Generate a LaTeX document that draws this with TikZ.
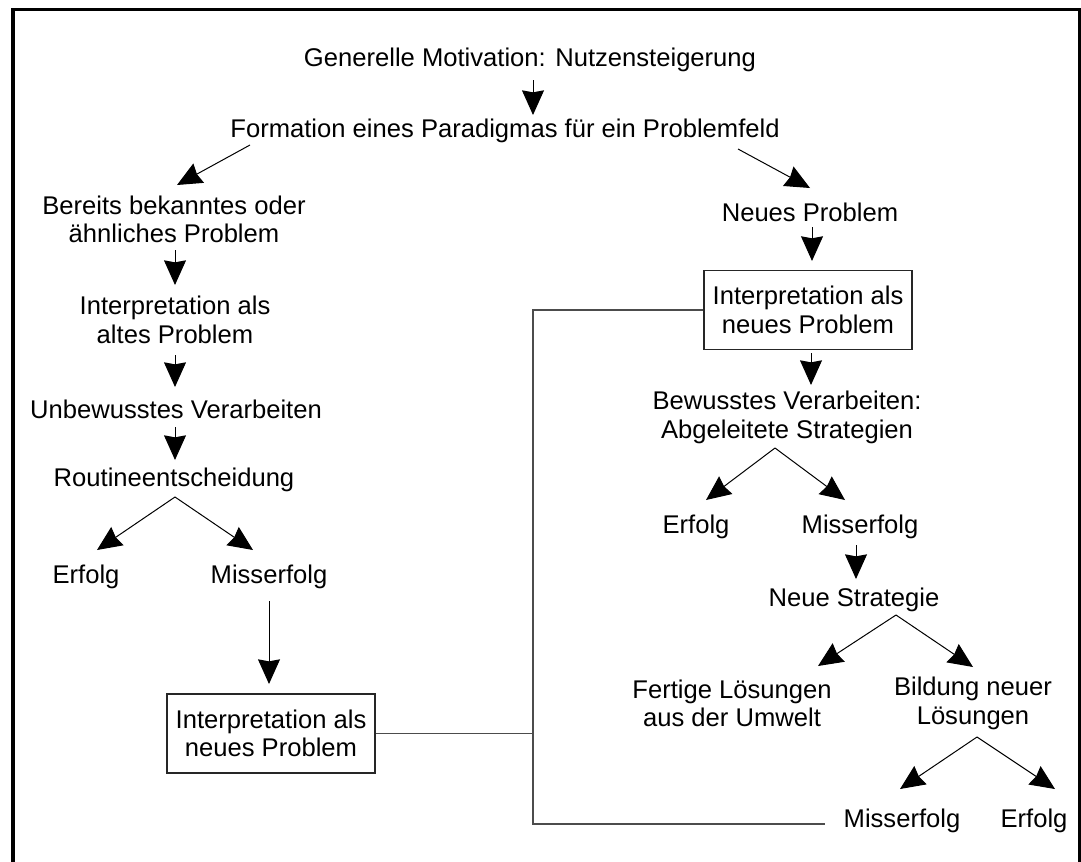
\documentclass[tikz,border=0pt]{standalone}
\usepackage{fontspec}
\setmainfont{Liberation Sans}
\usetikzlibrary{arrows.meta}
\begin{document}
\begin{tikzpicture}[x=0.75pt,y=-0.75pt,
  txt/.style={inner sep=0pt,align=center,font=\fontsize{19.2pt}{21.5pt}\selectfont},
  boxnode/.style={txt,draw=black!85,line width=0.8pt,minimum width=156pt,minimum height=59.25pt},
  arr/.style={line width=0.75pt,-{Stealth[length=18.5pt,width=16.5pt,inset=1.5pt]}},
  link/.style={line width=0.9pt,draw=black!70},
  frame/.style={line width=2.8pt,draw=black}]
\useasboundingbox (0,0) rectangle (1081,861);
\clip (0,0) rectangle (1081,861);
\draw[frame] (13,9.5) rectangle (1079.5,900);

% top of the scheme
\node[txt] (t1) at (530,60) {Generelle Motivation: Nutzensteigerung};
\node[txt] (t2) at (505,131) {Formation eines Paradigmas für ein Problemfeld};

% left branch: known problem
\node[txt] (bk) at (174,219.5) {Bereits bekanntes oder\\ähnliches Problem};
\node[txt] (ia) at (175,320) {Interpretation als\\altes Problem};
\node[txt] (uv) at (176,409) {Unbewusstes Verarbeiten};
\node[txt] (re) at (174,480) {Routineentscheidung};
\node[txt] (e1) at (86,577) {Erfolg};
\node[txt] (m1) at (269,577) {Misserfolg};
\node[boxnode] (b1) at (271,733.5) {Interpretation als\\neues Problem};

% right branch: new problem
\node[txt] (np) at (810,212) {Neues Problem};
\node[boxnode] (b2) at (808,310) {Interpretation als\\neues Problem};
\node[txt] (bv) at (787,417.5) {Bewusstes Verarbeiten:\\Abgeleitete Strategien};
\node[txt] (e2) at (696,527) {Erfolg};
\node[txt] (m2) at (860,527) {Misserfolg};
\node[txt] (ns) at (854,600) {Neue Strategie};
\node[txt] (fl) at (732,703.5) {Fertige Lösungen\\aus der Umwelt};
\node[txt] (bl) at (973,703.5) {Bildung neuer\\Lösungen};
\node[txt] (m3) at (902,821) {Misserfolg};
\node[txt] (e3) at (1034,821) {Erfolg};

% arrows
\draw[arr] ([shift={(3,20)}]t1.center) -- ([shift={(28,-16)}]t2.center);
\draw[arr] ([shift={(-255,14)}]t2.center) -- ([shift={(3,-34.5)}]bk.center);
\draw[arr] ([shift={(233,18)}]t2.center) -- ([shift={(0,-24)}]np.center);

\draw[arr] ([shift={(1,30.5)}]bk.center) -- ([shift={(0,-35)}]ia.center);
\draw[arr] ([shift={(0,35)}]ia.center) -- ([shift={(-1,-22)}]uv.center);
\draw[arr] ([shift={(-1,18)}]uv.center) -- ([shift={(1,-20)}]re.center);
\draw[arr] ([shift={(1,17)}]re.center) -- ([shift={(11,-27)}]e1.center);
\draw[arr] ([shift={(1,17)}]re.center) -- ([shift={(-16,-27)}]m1.center);
\draw[arr] ([shift={(0,24)}]m1.center) -- ([shift={(-2,-49.5)}]b1.center);

\draw[arr] ([shift={(2,15)}]np.center) -- ([shift={(4,-9)}]b2.north);
\draw[arr] ([shift={(3,3)}]b2.south) -- ([shift={(24,-32.5)}]bv.center);
\draw[arr] ([shift={(-12,30.5)}]bv.center) -- ([shift={(10,-27)}]e2.center);
\draw[arr] ([shift={(-12,30.5)}]bv.center) -- ([shift={(-15,-27)}]m2.center);
\draw[arr] ([shift={(-4,18)}]m2.center) -- ([shift={(2,-21)}]ns.center);
\draw[arr] ([shift={(42,15)}]ns.center) -- ([shift={(86,-37.5)}]fl.center);
\draw[arr] ([shift={(42,15)}]ns.center) -- ([shift={(0,-36.5)}]bl.center);
\draw[arr] ([shift={(4,33.5)}]bl.center) -- ([shift={(-2,-32)}]m3.center);
\draw[arr] ([shift={(4,33.5)}]bl.center) -- ([shift={(21,-32)}]e3.center);

% feedback lines joining the two "neues Problem" boxes
\coordinate (jb) at (533,824);
\coordinate (mend) at (825,824);
\draw[link] (b2.west) -| (jb) -- (mend);
\draw[link] (b1.east) -- (b1.east -| jb);
\end{tikzpicture}
\end{document}
